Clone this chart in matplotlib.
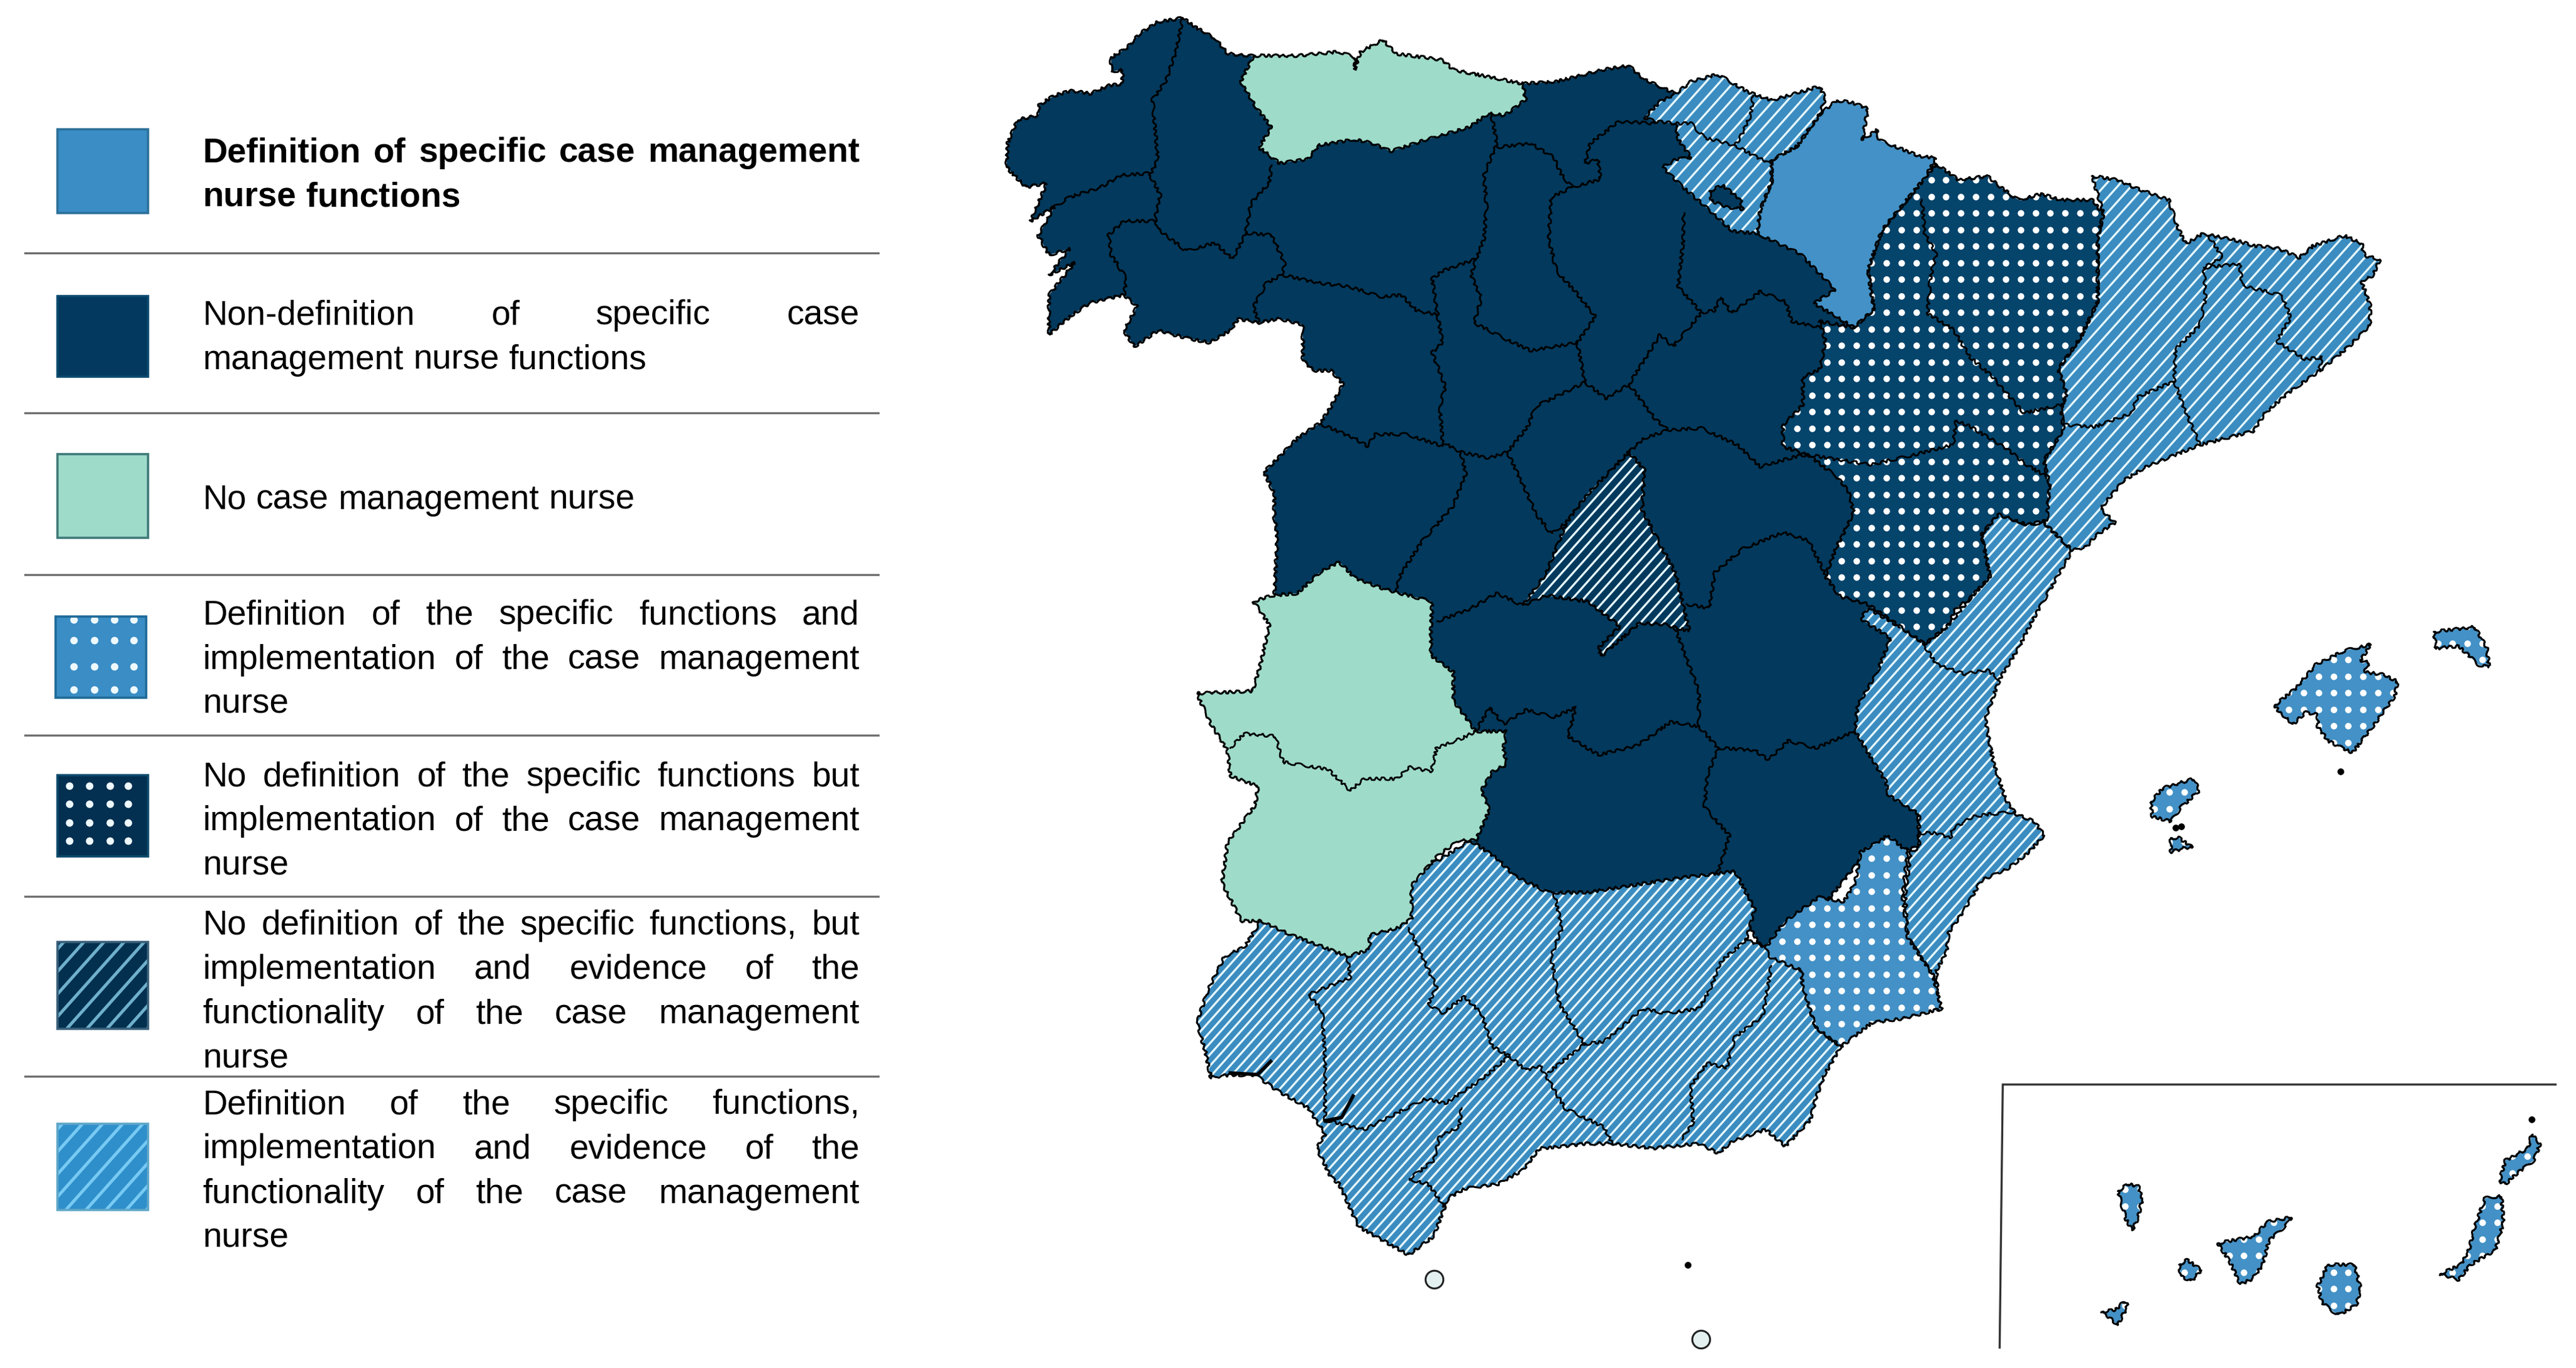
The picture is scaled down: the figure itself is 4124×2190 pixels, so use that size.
import numpy as np
import matplotlib
matplotlib.use('Agg')
import matplotlib.pyplot as plt
from matplotlib.collections import LineCollection
from matplotlib.patches import Polygon, Rectangle

plt.rcParams['font.family'] = ['Liberation Sans', 'DejaVu Sans']

# legend text, one list of lines per row
legend_rows = [
    ['Definition of specific case management', 'nurse functions'],
    ['Non-definition of specific case', 'management nurse functions'],
    ['No case management nurse'],
    ['Definition of the specific functions and', 'implementation of the case management', 'nurse'],
    ['No definition of the specific functions but', 'implementation of the case management', 'nurse'],
    ['No definition of the specific functions, but', 'implementation and evidence of the',
     'functionality of the case management', 'nurse'],
    ['Definition of the specific functions,', 'implementation and evidence of the',
     'functionality of the case management', 'nurse'],
]
legend_line_y = [
    [91.4, 118.4], [190, 217], [302], [372, 399, 426], [470, 497, 524],
    [560, 587, 614, 641], [669, 696, 723, 750],
]
legend_swatch_y = [(78.6, 129.4), (179.5, 228.5), (275.6, 326.4), (374, 423.2),
                   (470.2, 519.6), (571.4, 624.2), (681.7, 734.3)]
legend_rule_y = [153.5, 250.7, 348.7, 446, 544, 653]

# map outlines (image units, 1563 wide)
navy_zone = [
    (717.6, 10.9), (702.5, 13.3), (691.5, 20.5), (683.6, 29), (674.2, 35), (674.2, 43.5), (681, 42.3),
    (681, 50.8), (672.6, 52), (661.6, 56.8), (650, 55), (639.6, 58), (630.2, 64), (630.2, 70), (617.6, 72.5),
    (611.4, 87), (610.7, 101.5), (622.4, 113.6), (635, 111.2), (625.5, 134), (639.6, 125.7), (630, 143),
    (636.5, 154.7), (649, 151), (636.5, 166.8), (652, 159.5), (636.5, 179), (636.5, 203), (650.6, 191),
    (661.6, 183.7), (682, 178.9), (690, 186), (682, 200.6), (688.3, 210.3), (702.5, 200.6), (721.3, 205.4),
    (734, 207.9), (746.5, 200.6), (751.2, 193.4), (763.8, 195.8), (776.3, 193.4), (790.5, 197), (790.5, 218.7),
    (796.7, 224.8), (807.7, 224.8), (815, 233.2), (807.7, 246.5), (801.5, 256.2), (787.3, 265.9), (777.9, 275.5),
    (767, 286.4), (773.2, 299.7), (773.2, 314.2), (775, 326), (773.2, 362), (800, 400), (900, 520), (950, 560),
    (1060, 560), (1075, 585), (1110, 545), (1130, 520), (1164.4, 514), (1160, 400), (1150, 375), (1150, 340),
    (1135, 300), (1125, 280), (1120, 230), (1125, 185), (1100, 150), (1070, 135), (1030, 100),
    (1016.7, 56.8), (997.8, 48.3), (988.4, 39.9),
    (972.7, 42.3), (944.4, 49.5), (924, 50.8), (850, 60), (759, 33.8), (745, 32.6), (737, 23), (726, 17),
]
asturias = [
    (760.6, 33.8), (787.3, 33.8), (812.5, 31.4), (822.5, 35), (821.9, 42.3), (825.6, 31.4), (839.2, 24.2),
    (847, 32.6), (875.3, 36.3), (881.6, 42.3), (924, 50.8), (925.6, 60.4), (913, 70), (903.6, 68.9), (891, 77.3),
    (865.9, 84.6), (843.9, 91.8), (832.9, 87), (821.9, 84.6), (799.9, 88.2), (793.6, 96.7), (776.3, 99),
    (763.8, 89.4), (771.6, 77.3), (762.2, 65.3), (752.8, 49.5),
]
extremadura = [
    (812.5, 340.8), (821.9, 350.5), (840.7, 357.7), (869, 365), (868.3, 379), (868.3, 397.7), (881.9, 407.8),
    (881.9, 425), (895.4, 443.7), (914, 443.7), (912.3, 453.8), (914, 463.8), (905.5, 468.2), (898.8, 479.7),
    (903.9, 491.2), (895.4, 509.9), (885.2, 509.9), (871.7, 519.9), (856.5, 537.2), (856.5, 557.3), (848, 563),
    (831.1, 567.4), (831.1, 576), (817.6, 580.3), (798.9, 573), (783.7, 567.4), (765.1, 558.8), (753.3, 558.8),
    (741.4, 535.7), (744.8, 511.3), (761.7, 488.3), (763.4, 476.8), (746.5, 471), (744.8, 455.2), (734.7, 439.4),
    (726.2, 420.7), (760, 419.3), (765.1, 402), (770.2, 379), (760.6, 365), (771.6, 361.3), (787.3, 360),
    (799.9, 348),
]
madrid = [
    (988.4, 274.3), (997.8, 285.2), (996.3, 309.4), (1016.7, 348), (1025, 383), (1010, 379), (995, 378),
    (971.5, 398), (970, 393), (983, 380), (963.3, 365), (938.1, 361.3), (924, 367.4), (938.1, 348),
    (950.7, 316.6), (963.3, 299.7),
]
navarra = [
    (1114.5, 60.9), (1123.1, 62.1), (1133.4, 65.7), (1130, 85), (1138.6, 79), (1140.3, 85), (1164.4, 94.7),
    (1174.8, 95.9), (1167.9, 108), (1154.1, 124.9), (1142, 139.4), (1133.4, 163.6), (1136.9, 187.8),
    (1124.8, 198.6), (1100.7, 184.1), (1113.5, 175.7), (1092.1, 153.9), (1066.3, 141.8), (1068, 127.3),
    (1074.9, 110.4), (1074.9, 97.1), (1090.4, 88.7), (1104.2, 69.3),
]
basque = [
    (997.8, 71.3), (1007.3, 61.6), (1016.7, 56.8), (1026.1, 49.5), (1042.2, 45.1), (1061, 56), (1075, 60.9),
    (1104, 52.4), (1107.6, 59.6), (1104.2, 69.3), (1090.4, 88.7), (1074.9, 97.1), (1074.9, 110.4), (1068, 127.3),
    (1066.3, 141.8), (1051.2, 140.2), (1041.8, 131.7), (1032.4, 123.3), (1019.8, 112.4), (1008.8, 101.5),
    (1016.7, 96.7), (1026.1, 95.5), (1018.3, 84.6), (1016.7, 74.9), (1004.1, 73.7),
]
trevino = [(1037.1, 116), (1045, 112.4), (1056, 120.9), (1057.5, 126.9), (1048.1, 125.7), (1038.7, 122)]
aragon = [
    (1174.8, 99.5), (1188.5, 109.2), (1205.7, 106.8), (1216, 115.2), (1224.7, 121.3), (1238.4, 117.7),
    (1250.5, 121.3), (1269.4, 121.3), (1276.3, 129.7), (1272.8, 144.2), (1272.8, 182.9), (1262.5, 204.7),
    (1248.8, 224), (1254, 238.5), (1250.5, 248.2), (1252.2, 260.3), (1240.1, 279.6), (1243.6, 294.1),
    (1241.9, 315.9), (1229.8, 318.3), (1212.6, 312.2), (1202.3, 324.3), (1207.4, 349.7), (1195.4, 363),
    (1186.8, 369), (1181.6, 379.9), (1167.9, 390.8), (1154.1, 381.1), (1140.3, 371.5), (1133.4, 366.6),
    (1116.2, 361.8), (1107.6, 349.7), (1114.5, 331.6), (1124.8, 311), (1121.4, 297.7), (1114.5, 289.3),
    (1097.3, 276), (1081.8, 271.1), (1081.8, 257.8), (1093.9, 245.8), (1093.9, 228.8), (1104.2, 224),
    (1107.6, 207.1), (1104.2, 195), (1124.8, 198.6), (1136.9, 187.8), (1133.4, 163.6), (1142, 139.4),
    (1154.1, 124.9), (1167.9, 108),
]
catalonia = [
    (1269.4, 106.8), (1284.9, 109.2), (1298.7, 115.2), (1315.9, 121.3), (1321, 137), (1326.2, 147.9),
    (1336.5, 141.8), (1355.5, 145.5), (1367.5, 149.1), (1381.3, 150.3), (1395, 156.3), (1403.6, 149.1),
    (1422.6, 143), (1433, 147.9), (1434.6, 155.1), (1444, 157.5), (1439.8, 167.2), (1432.9, 170.8),
    (1438.1, 185.3), (1438, 197.4), (1426, 209.5), (1408.8, 224), (1388.2, 238.5), (1374.4, 250.6),
    (1367.5, 261.5), (1334.8, 269.9), (1302.1, 283.2), (1288.3, 291.7), (1274.6, 308.6), (1283.2, 317.1),
    (1271.1, 325.5), (1266, 331.6), (1257.4, 334), (1240.1, 317.1), (1243.6, 294.1), (1240.1, 279.6),
    (1252.2, 260.3), (1250.5, 248.2), (1254, 238.5), (1248.8, 224), (1262.5, 204.7), (1272.8, 182.9),
    (1272.8, 144.2), (1276.3, 129.7),
]
valencia = [
    (1240.1, 317.1), (1257.4, 334), (1247, 352), (1233.3, 376.3), (1224.7, 393.2), (1213.3, 412), (1204.6, 436.5),
    (1209.5, 462.4), (1217, 485.4), (1223.2, 494), (1234.3, 498.4), (1240.5, 507), (1229.3, 518.5), (1218.2, 527),
    (1202.1, 534.3), (1192.2, 551.6), (1182.3, 566), (1181.1, 577.4), (1174.9, 589), (1176.1, 613.4),
    (1172.9, 591.8), (1157.6, 568.8), (1156, 543), (1159.3, 517), (1164.4, 514), (1164.4, 494), (1145.8, 482.5),
    (1144.1, 474), (1125.5, 443.7), (1127.2, 427.9), (1139, 407.8), (1145.8, 390.5), (1147.2, 387.2),
    (1130, 376.3), (1130, 373.9), (1133.4, 369), (1154.1, 381.1), (1167.9, 390.8), (1181.6, 379.9),
    (1195.4, 363), (1207.4, 349.7), (1202.3, 324.3), (1212.6, 312.2), (1229.8, 318.3),
]
murcia = [
    (1145.8, 507), (1157.6, 517), (1154.3, 542.9), (1157.6, 568.8), (1172.9, 591.8), (1178, 612), (1156, 617.7),
    (1135.7, 620.6), (1117, 635), (1101.8, 623.5), (1093.4, 597.6), (1093.4, 589), (1073.1, 580.3),
    (1071.4, 574.6), (1083.2, 558.8), (1103.5, 544.4), (1118.7, 547.2), (1125.5, 535.7), (1128.9, 517),
]
andalucia = [
    (892, 509.9), (907.2, 519.9), (919.1, 531.4), (939.4, 541.5), (963, 541.5), (990.1, 537.2), (1017.2, 532.9),
    (1052.7, 528.6), (1064.6, 551.6), (1059.5, 570.3), (1071.4, 574.6), (1093.4, 589), (1101.8, 623.5),
    (1117, 635), (1106.9, 652.2), (1101.8, 666.6), (1098.4, 679.5), (1083.2, 695.4), (1071.4, 685.3),
    (1051.1, 692.5), (1042.6, 699.7), (1030.8, 693.9), (1002, 696.8), (980, 693.9), (963, 693.9), (934.3, 696.8),
    (924.2, 709.7), (909, 718.4), (888.6, 721.2), (878.5, 727), (870, 750), (854.8, 761.5), (839.6, 752.9),
    (824.3, 744.3), (812.5, 718.4), (807.4, 714), (799, 696.8), (804, 688.2), (793.9, 672.4), (773.6, 660.8),
    (761.7, 652.2), (746.5, 652.2), (734.7, 653.7), (731.3, 637.8), (726.2, 620.6), (733, 600.5), (743, 580.3),
    (755, 574.6), (765.1, 558.8), (800, 560), (860, 530),
]

# islands
mallorca = [
    (1380.3, 427.9), (1392.7, 417.8), (1405, 403.4), (1422.4, 394.8), (1438.5, 391), (1432.3, 400.6), (1437.3, 402),
    (1434.8, 407.8), (1446, 409.2), (1454.6, 413.5), (1453.3, 422), (1439.7, 440.8), (1427.3, 456.7),
    (1412.5, 449.5), (1406.3, 440.8), (1406.3, 433.6), (1398.9, 432.2), (1391.5, 439.4), (1382.8, 432.2),
]
menorca = [(1476.8, 383.3), (1501.6, 380.4), (1509, 393.4), (1510.2, 404.9), (1504, 403.4), (1491.7, 392), (1478.1, 393.4)]
ibiza = [(1304.8, 486.9), (1312.3, 478.2), (1330.8, 472.5), (1334.5, 479.7), (1323.4, 489.7), (1317.2, 498.4), (1306, 495.5)]
formentera = [(1317.2, 508.4), (1322.2, 508.4), (1330.3, 514.2), (1324.6, 514.7), (1317.2, 517)]
la_palma = [(1285, 722.7), (1291.2, 718.4), (1297.4, 719.8), (1299.9, 727), (1297.4, 738.5), (1293.7, 746.5), (1290, 739.8)]
el_hierro = [(1275.1, 796), (1283.8, 794.6), (1288.8, 789.7), (1291.2, 791.7), (1285, 804), (1280.1, 799.5)]
la_gomera = [(1322.2, 767.3), (1327.1, 764.4), (1335.8, 770.7), (1329.6, 777.3), (1323.4, 774.5)]
tenerife = [
    (1345.7, 754.3), (1368, 750), (1375.4, 741.4), (1390.2, 738.5), (1387.7, 742.8), (1376.6, 752.9),
    (1372.9, 767.3), (1366.7, 775.9), (1359.3, 779.3), (1353.1, 765.8),
]
gran_canaria = [
    (1412.5, 767.3), (1428.6, 767.3), (1432.3, 781.6), (1429.8, 791.7), (1418.7, 798), (1408.8, 790.3), (1406.3, 780.2),
]
fuerteventura = [
    (1480.6, 773), (1493, 767.3), (1497.9, 758.6), (1501.6, 744.3), (1507.8, 727), (1517.7, 725.6), (1519, 741.4),
    (1514, 758.6), (1499.1, 767.3), (1491.7, 776.5),
]
lanzarote = [
    (1516.5, 716.9), (1520.2, 704), (1533.8, 696.8), (1536.2, 688.2), (1541.2, 694), (1537.5, 704),
    (1526.4, 712.6), (1520.2, 718.4),
]
dotted_islands = [mallorca, menorca, ibiza, formentera, la_palma, el_hierro, la_gomera, tenerife,
                  gran_canaria, fuerteventura, lanzarote]

# province borders
province_borders = [
    [(717.6, 10.9), (713.5, 31.4), (707.2, 49.5), (699.3, 60.4), (702.5, 96.7), (697.8, 106.3)],
    [(697.8, 105.1), (680.5, 106.3), (667.9, 113.6), (649, 119.6), (639.6, 125.7)],
    [(697.8, 106.3), (704, 118.4), (700.9, 132.9), (702.5, 139), (719.8, 152.3), (737, 147.4), (748, 157.1), (755.9, 141.4)],
    [(700.9, 134.1), (682, 134.1), (672.6, 142.6), (674.2, 154.7), (683.6, 169.2), (682, 178.9)],
    [(771.6, 100.3), (770, 111.2), (759, 123.3), (755.9, 141.4)],
    [(755.9, 141.4), (771.6, 142.6), (779.5, 159.5), (777.9, 166.8), (768.5, 171.6), (760.6, 186.1), (763.8, 195.8)],
    [(777.9, 166.8), (799.9, 171.6), (818.7, 174), (837.6, 180), (850.1, 178.9), (859.6, 188.5), (872.2, 190.9)],
    [(905, 70), (908.3, 87), (900.4, 106.3), (902, 125.7), (900.4, 145), (895.7, 157.1), (875.3, 164.4), (869, 169.2), (872.2, 190.9)],
    [(908.3, 89.4), (928.7, 87), (942.8, 95.5), (947.6, 106.3), (953.9, 113.6), (971.1, 108.8), (969.6, 96.7),
     (961.7, 99.1), (964.8, 87), (982.1, 73.7), (1004, 74.9)],
    [(953.9, 113.6), (941.3, 119.6), (939.7, 145), (944.4, 164.4), (955.4, 176.4), (968, 192.2), (957, 207.9)],
    [(895.7, 157.1), (892.6, 166.8), (898.9, 181.3), (894.2, 195.8), (913, 205.4), (928.7, 212.7), (957, 207.9)],
    [(872.2, 190.9), (875.3, 207.9), (869, 213.9), (876.9, 234.4), (873.7, 246.5), (875.3, 268.3), (886.3, 274.3)],
    [(801.5, 257.4), (821.9, 265.9), (829.7, 270.7), (834.5, 263.5), (853.3, 263.5), (875.3, 270.7)],
    [(957, 207.9), (961.7, 232), (931.9, 246.5), (927.1, 258.6), (914.6, 274.3), (903.6, 278), (886.3, 274.3)],
    [(961.7, 232), (974.3, 241.7), (988.4, 233.2)],
    [(988.4, 233.2), (1007.3, 203), (1015.1, 210.3), (1032.4, 189.7), (1018.2, 174), (1021.4, 145), (1021.4, 129.3)],
    [(1032.4, 189.7), (1040.2, 188.5), (1044, 180.5), (1050.8, 190), (1068, 176.9), (1083.5, 183), (1087, 195), (1104.2, 198.6)],
    [(988.4, 233.2), (1004, 253.8), (1012, 261), (1032.4, 259.8), (1054.3, 270), (1068, 283.2), (1088.7, 277.2), (1097.3, 276)],
    [(1012, 261), (997.8, 265.9), (988.4, 274.3)],
    [(914.6, 274.3), (925.6, 297.3), (931.9, 311.8), (941.3, 323.9), (950.7, 316.6)],
    [(886.3, 274.3), (889.4, 287.6), (881.6, 307), (862.7, 328.7), (850.1, 348), (847, 357.7)],
    [(872, 377), (891, 369.8), (908.3, 360), (924, 367.4)],
    [(1023.3, 366.6), (1037, 369), (1040.5, 347.3), (1057.7, 332.8), (1081.8, 323.1), (1097.3, 327.9), (1107.6, 348.5)],
    [(1015.5, 379), (1030.8, 419.3), (1030.8, 440.8)],
    [(895.4, 443.7), (903.9, 429.3), (912.3, 439.4), (925.8, 430.8), (942.8, 435), (956.3, 429.3), (951.2, 446.6),
     (969.8, 458), (993.5, 452.3), (1013.8, 438), (1030.8, 440.8)],
    [(1030.8, 440.8), (1042.6, 453.8), (1035.8, 471), (1034.2, 489.7), (1049.4, 507), (1042.6, 528.6)],
    [(1042.6, 453.8), (1064.6, 455.2), (1073.1, 461), (1085, 449.5), (1101.8, 453.8), (1125.5, 443.7)],
    # extremadura
    [(746.5, 453.8), (755, 445.1), (773.6, 446.6), (778.6, 462.4), (805.7, 466.7), (819.3, 479.7), (827.7, 472.5),
     (848, 472.5), (854.8, 465.3), (868.3, 468.2), (871.7, 453.8), (886.9, 448), (895.4, 443.7)],
    # basque country
    [(1063.8, 58), (1062.2, 70), (1056, 83.4), (1052.8, 88.2), (1034, 83.4), (1026.1, 74.9), (1016.7, 74.9)],
    [(1052.8, 88.2), (1063.8, 94.3), (1074.8, 99.1)],
    # aragon
    [(1166.1, 121.3), (1167.9, 141.8), (1174.8, 153.9), (1171.3, 168.4), (1169.6, 190.2), (1185.1, 199.8),
     (1195.4, 216.8), (1209.2, 228.8), (1219.5, 240.9), (1228.1, 250.6), (1250.5, 245.8)],
    [(1097.3, 276), (1135.2, 282), (1161, 276), (1185.1, 269.9), (1186.8, 255.4), (1193.7, 257.8), (1216, 271.1),
     (1229.8, 282), (1241.9, 289.3)],
    # catalonia
    [(1340, 143), (1348.6, 156.3), (1337.2, 162.4), (1338.2, 180.5), (1334.8, 197.4), (1320, 211.9), (1319.3, 231.3),
     (1296.9, 240.9), (1293.5, 250.6), (1271.1, 259), (1253.2, 257.8)],
    [(1319.3, 231.3), (1324.5, 245.8), (1334.8, 269.9)],
    [(1337.2, 162.4), (1358.9, 160), (1360.6, 173.3), (1384.7, 179.3), (1389.9, 192.6), (1381.3, 207.1),
     (1398.5, 218), (1408.8, 216.8), (1407.1, 225.2)],
    # valencia
    [(1167.9, 392), (1174.8, 402.9), (1192, 408.9), (1205.7, 406.5), (1212.6, 412)],
    [(1164.4, 505.5), (1174.9, 505.5), (1183.6, 508.4), (1184.8, 502.7), (1197.2, 495.5), (1207, 494), (1222, 492.6)],
    # andalucia
    [(817.6, 580.3), (819.3, 593.3), (793.9, 603.3), (802.3, 613.4), (804, 643.6), (804, 681)],
    [(854.8, 563), (871.7, 599), (866.6, 609), (875, 614.8), (888.6, 604.8), (898.8, 614.8), (905.5, 635), (915.7, 640.7)],
    [(804, 679.5), (827.7, 685.3), (848, 675.2), (864.9, 666.6), (876.8, 669.5), (898.8, 655), (915.7, 640.7)],
    [(886.9, 672.4), (885.2, 683.9), (873.4, 689.6), (870, 704), (854.8, 715.5), (866.6, 718.4), (876.8, 732.7)],
    [(942.8, 541.5), (947.8, 563), (941.1, 580.3), (946.2, 609), (961.4, 633.5), (939.4, 650.8)],
    [(915.7, 640.7), (925.8, 649.3), (934.3, 646.5), (939.4, 655), (949.5, 672.4), (973.2, 683.9), (978.3, 693.9)],
    [(961.4, 633.5), (973.2, 632), (996.9, 612), (1010.4, 614.8), (1030.8, 612), (1037.5, 600.5), (1044.3, 583.2), (1059.5, 570.3)],
    [(1074.7, 586), (1069.7, 616.3), (1052.7, 629.2), (1047.7, 647.9), (1035.8, 645), (1025.7, 659.4), (1027.4, 681), (1020.6, 691)],
]
river_marks = [
    [(746.5, 651), (763, 652), (771, 644)],
    [(804, 680), (814, 678), (821, 665)],
]
small_rings = [(870, 776), (1032, 812.7)]
small_dots = [(1024, 767.3), (1420, 468), (1536.2, 679), (1320, 502), (1323.5, 501.5)]
inset_frame = [(1550.6, 658), (1215.2, 658), (1213.3, 817.6)]

NAVY = '#02395c'
NAVY_DOT = '#05446b'
MINT = '#9edbc9'
BLUE = '#4391c6'
STRIPE_BLUE = '#3b8cc0'
GRID_X0, GRID_DX = 1144.6, 9.04
GRID_Y0, GRID_DY = 199.6, 10.04
STRIPE_SLOPE = 1.12

fig = plt.figure(figsize=(41.24, 21.9), dpi=100)
ax = fig.add_axes([0, 0, 1, 1])
ax.set_xlim(0, 1563)
ax.set_ylim(830, 0)
ax.axis('off')


def add_stripes(patch, color, step=6.5, width=2.4, z=2):
    x0, y0, x1, y1 = patch.get_path().get_extents(patch.get_patch_transform()).extents
    c_start = np.floor((x0 + y0 / STRIPE_SLOPE) / step) * step
    segs = []
    for c in np.arange(c_start, x1 + y1 / STRIPE_SLOPE + step, step):
        segs.append([(c - y0 / STRIPE_SLOPE, y0), (c - y1 / STRIPE_SLOPE, y1)])
    lines = LineCollection(segs, colors=color, linewidths=width, zorder=z)
    ax.add_collection(lines)
    lines.set_clip_path(patch)


def add_dots(patch, z=2):
    x0, y0, x1, y1 = patch.get_path().get_extents(patch.get_patch_transform()).extents
    xs = GRID_X0 + GRID_DX * np.arange(np.floor((x0 - GRID_X0) / GRID_DX), np.ceil((x1 - GRID_X0) / GRID_DX) + 1)
    ys = GRID_Y0 + GRID_DY * np.arange(np.floor((y0 - GRID_Y0) / GRID_DY), np.ceil((y1 - GRID_Y0) / GRID_DY) + 1)
    gx, gy = np.meshgrid(xs, ys)
    pts = ax.scatter(gx.ravel(), gy.ravel(), s=57, color='white', linewidths=0, zorder=z)
    pts.set_clip_path(patch)


def add_region(verts, face, pattern=None, z=1, step=6.5):
    fill = Polygon(verts, closed=True, facecolor=face, edgecolor='none', zorder=z)
    ax.add_patch(fill)
    if pattern == 'stripes':
        add_stripes(fill, '#e4f6fb', step=step, z=z + 0.1)
    elif pattern == 'dots':
        add_dots(fill, z=z + 0.1)
    edge = Polygon(verts, closed=True, facecolor='none', edgecolor='black', linewidth=2.2,
                   joinstyle='round', zorder=z + 0.2)
    edge.set_sketch_params(2.2, 22, 6)
    ax.add_patch(edge)


add_region(navy_zone, NAVY, z=1)
add_region(andalucia, STRIPE_BLUE, 'stripes', z=2, step=6.1)
add_region(extremadura, MINT, z=3)
add_region(valencia, STRIPE_BLUE, 'stripes', z=4, step=6.5)
add_region(catalonia, STRIPE_BLUE, 'stripes', z=5, step=8.2)
add_region(aragon, NAVY_DOT, 'dots', z=6)
add_region(navarra, BLUE, z=7)
add_region(basque, STRIPE_BLUE, 'stripes', z=8, step=8.5)
add_region(trevino, NAVY, z=9)
add_region(asturias, MINT, z=10)
add_region(madrid, NAVY, 'stripes', z=11, step=6.8)
add_region(murcia, BLUE, 'dots', z=12)
for island in dotted_islands:
    add_region(island, BLUE, 'dots', z=13)

for border in province_borders:
    xs, ys = zip(*border)
    line, = ax.plot(xs, ys, color='black', lw=2.0, zorder=9.5, solid_joinstyle='round')
    line.set_sketch_params(2.2, 22, 6)
for mark in river_marks:
    xs, ys = zip(*mark)
    ax.plot(xs, ys, color='black', lw=4, zorder=14)
for x, y in small_rings:
    ax.scatter([x], [y], s=420, facecolor='#e4f0f0', edgecolor='#222222', linewidths=2.2, zorder=14)
for x, y in small_dots:
    ax.scatter([x], [y], s=60, color='black', linewidths=0, zorder=14)

xs, ys = zip(*inset_frame)
ax.plot(xs, ys, color='#333333', lw=2.4, zorder=14, solid_joinstyle='miter')

# legend
for y in legend_rule_y:
    ax.plot([15, 533], [y, y], color='#6e6e6e', lw=2.4)

swatch_faces = ['#3a8dc5', '#03395e', '#9edbc9', '#3a8dc5', '#032f50', '#03304f', '#2f8fca']
swatch_edges = ['#2c7099', '#0b4a70', '#3e7a78', '#1e6a98', '#0c4a6c', '#39607a', '#5ea6c8']
swatch_dots_x = [[], [], [], [44.8, 57.2, 69.4, 81.2], [42, 54.3, 66.6, 77.8], [], []]
swatch_dots_y = [[], [], [], [376, 388.6, 404.3, 418.5], [476.8, 487.6, 499, 510], [], []]

for i, (y0, y1) in enumerate(legend_swatch_y):
    x0, x1 = (33.8, 88.5) if i == 3 else (35, 89.7)
    box = Rectangle((x0, y0), x1 - x0, y1 - y0, facecolor=swatch_faces[i], edgecolor='none', zorder=2)
    ax.add_patch(box)
    if i == 5:
        add_stripes(box, '#6fb0cc', step=12.2, width=3.6, z=2.1)
    if i == 6:
        add_stripes(box, '#77caf3', step=12.2, width=3.6, z=2.1)
    if swatch_dots_x[i]:
        gx, gy = np.meshgrid(swatch_dots_x[i], swatch_dots_y[i])
        pts = ax.scatter(gx.ravel(), gy.ravel(), s=75, color='#eef9fc', linewidths=0, zorder=2.1)
        pts.set_clip_path(box)
    ax.add_patch(Rectangle((x0, y0), x1 - x0, y1 - y0, facecolor='none', edgecolor=swatch_edges[i],
                           linewidth=2.6, zorder=2.2))

# justified text, word by word
TEXT_LEFT, TEXT_RIGHT = 123, 521.5
renderer = fig.canvas.get_renderer()
units_per_px = 1563 / 4124


def word_width(word, size, weight):
    t = ax.text(0, 0, word, fontsize=size, fontweight=weight)
    w = t.get_window_extent(renderer).width * units_per_px
    t.remove()
    return w


for i, lines in enumerate(legend_rows):
    weight = 'bold' if i == 0 else 'normal'
    size = 39.6
    for j, line in enumerate(lines):
        base = legend_line_y[i][j] + 6.8
        words = line.split(' ')
        widths = [word_width(w, size, weight) for w in words]
        space = word_width('n n', size, weight) - 2 * word_width('n', size, weight)
        last = j == len(lines) - 1
        gap = space if last or len(words) == 1 else (TEXT_RIGHT - TEXT_LEFT - sum(widths)) / (len(words) - 1)
        x = TEXT_LEFT
        for w, width in zip(words, widths):
            ax.text(x, base, w, fontsize=size, fontweight=weight, color='black', va='baseline', ha='left', zorder=3)
            x += width + gap

fig.savefig('out.png', dpi=100, facecolor='white')
